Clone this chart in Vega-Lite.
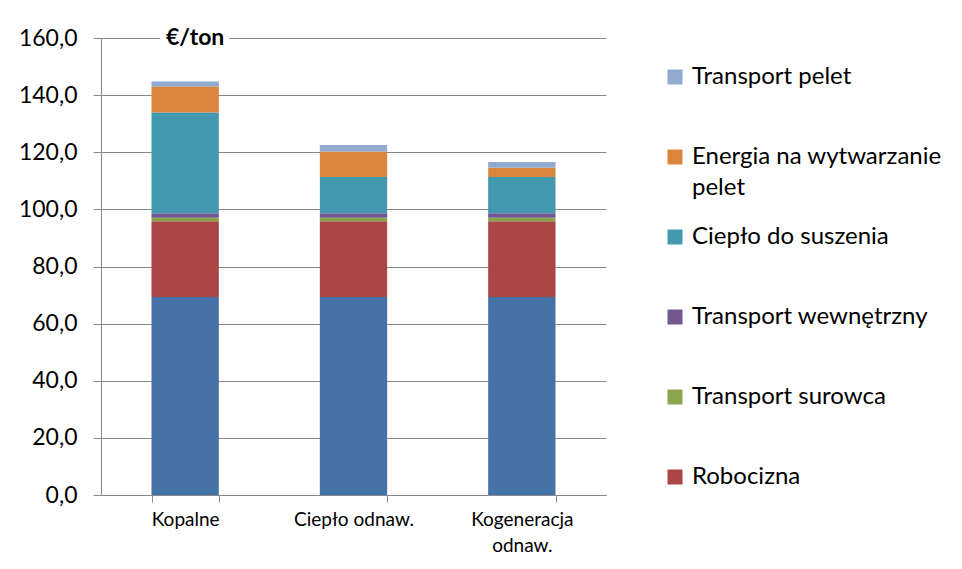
{
  "$schema": "https://vega.github.io/schema/vega-lite/v6.json",
  "width": 505,
  "height": 457,
  "autosize": {"type": "none"},
  "padding": {"left": 101, "top": 38, "right": 356, "bottom": 74},
  "background": "white",
  "config": {
    "view": {"stroke": null},
    "font": "Lato",
    "style": {"guide-label": {"lineHeight": 31}},
    "axis": {"labelColor": "black", "labelFont": "Lato", "domainColor": "#888888", "tickColor": "#888888", "gridColor": "#888888"}
  },
  "data": {"values": [
    {"scenario": "Kopalne", "component": "Surowiec", "rank": 1, "value": 69.3},
    {"scenario": "Kopalne", "component": "Robocizna", "rank": 2, "value": 26.5},
    {"scenario": "Kopalne", "component": "Transport surowca", "rank": 3, "value": 1.3},
    {"scenario": "Kopalne", "component": "Transport wewnętrzny", "rank": 4, "value": 1.5},
    {"scenario": "Kopalne", "component": "Ciepło do suszenia", "rank": 5, "value": 35.3},
    {"scenario": "Kopalne", "component": "Energia na wytwarzanie pelet", "rank": 6, "value": 9.1},
    {"scenario": "Kopalne", "component": "Transport pelet", "rank": 7, "value": 1.8},
    {"scenario": "Ciepło odnaw.", "component": "Surowiec", "rank": 1, "value": 69.3},
    {"scenario": "Ciepło odnaw.", "component": "Robocizna", "rank": 2, "value": 26.5},
    {"scenario": "Ciepło odnaw.", "component": "Transport surowca", "rank": 3, "value": 1.3},
    {"scenario": "Ciepło odnaw.", "component": "Transport wewnętrzny", "rank": 4, "value": 1.5},
    {"scenario": "Ciepło odnaw.", "component": "Ciepło do suszenia", "rank": 5, "value": 12.7},
    {"scenario": "Ciepło odnaw.", "component": "Energia na wytwarzanie pelet", "rank": 6, "value": 9.0},
    {"scenario": "Ciepło odnaw.", "component": "Transport pelet", "rank": 7, "value": 2.2},
    {"scenario": "Kogeneracja odnaw.", "component": "Surowiec", "rank": 1, "value": 69.3},
    {"scenario": "Kogeneracja odnaw.", "component": "Robocizna", "rank": 2, "value": 26.5},
    {"scenario": "Kogeneracja odnaw.", "component": "Transport surowca", "rank": 3, "value": 1.3},
    {"scenario": "Kogeneracja odnaw.", "component": "Transport wewnętrzny", "rank": 4, "value": 1.5},
    {"scenario": "Kogeneracja odnaw.", "component": "Ciepło do suszenia", "rank": 5, "value": 12.7},
    {"scenario": "Kogeneracja odnaw.", "component": "Energia na wytwarzanie pelet", "rank": 6, "value": 3.3},
    {"scenario": "Kogeneracja odnaw.", "component": "Transport pelet", "rank": 7, "value": 2.0}
  ]},
  "layer": [
    {
      "mark": {"type": "bar"},
      "encoding": {
        "x": {
          "field": "scenario", "type": "nominal",
          "sort": ["Kopalne", "Ciepło odnaw.", "Kogeneracja odnaw."],
          "scale": {"paddingInner": 0.6, "paddingOuter": 0.3},
          "axis": {
            "title": null, "labelAngle": 0, "labelFontSize": 19, "labelPadding": 8,
            "tickBand": "extent", "tickSize": 7, "domainWidth": 1,
            "labelExpr": "datum.label == 'Kogeneracja odnaw.' ? ['Kogeneracja', 'odnaw.'] : datum.label",
            "labelLineHeight": 26
          }
        },
        "y": {
          "field": "value", "type": "quantitative", "stack": "zero",
          "scale": {"domain": [0, 160], "nice": false},
          "axis": {
            "title": null, "values": [0, 20, 40, 60, 80, 100, 120, 140, 160],
            "labelExpr": "replace(format(datum.value, '.1f'), '.', ',')",
            "labelFontSize": 23, "tickSize": 8, "labelPadding": 16, "grid": true
          }
        },
        "order": {"field": "rank", "type": "quantitative", "sort": "ascending"},
        "color": {
          "field": "component", "type": "nominal",
          "scale": {
            "domain": ["Surowiec", "Robocizna", "Transport surowca", "Transport wewnętrzny", "Ciepło do suszenia", "Energia na wytwarzanie pelet", "Transport pelet"],
            "range": ["#4572A7", "#AA4643", "#89A54E", "#71588F", "#4198AF", "#DB843D", "#93A9CF"]
          },
          "legend": {
            "title": null,
            "values": ["Transport pelet", "Energia na wytwarzanie pelet", "Ciepło do suszenia", "Transport wewnętrzny", "Transport surowca", "Robocizna"],
            "orient": "none", "legendX": 562, "legendY": 27,
            "gridAlign": "all",
            "symbolType": "square", "symbolSize": 225, "symbolStrokeWidth": 0,
            "labelFontSize": 24, "labelFont": "Lato", "labelColor": "black", "labelOffset": 5,
            "rowPadding": 25, "labelLimit": 400,
            "labelExpr": "datum.label == 'Energia na wytwarzanie pelet' ? ['Energia na wytwarzanie', 'pelet'] : datum.label"
          }
        }
      }
    },
    {
      "data": {"values": [{"label": "€/ton"}]},
      "mark": {"type": "text", "fontSize": 23, "fontWeight": "bold", "stroke": "white", "strokeWidth": 12, "fill": "white", "dx": 10, "baseline": "middle"},
      "encoding": {"x": {"datum": "Kopalne"}, "y": {"datum": 160}, "text": {"field": "label"}}
    },
    {
      "data": {"values": [{"label": "€/ton"}]},
      "mark": {"type": "text", "fontSize": 23, "fontWeight": "bold", "color": "black", "dx": 10, "baseline": "middle"},
      "encoding": {"x": {"datum": "Kopalne"}, "y": {"datum": 160}, "text": {"field": "label"}}
    }
  ]
}
